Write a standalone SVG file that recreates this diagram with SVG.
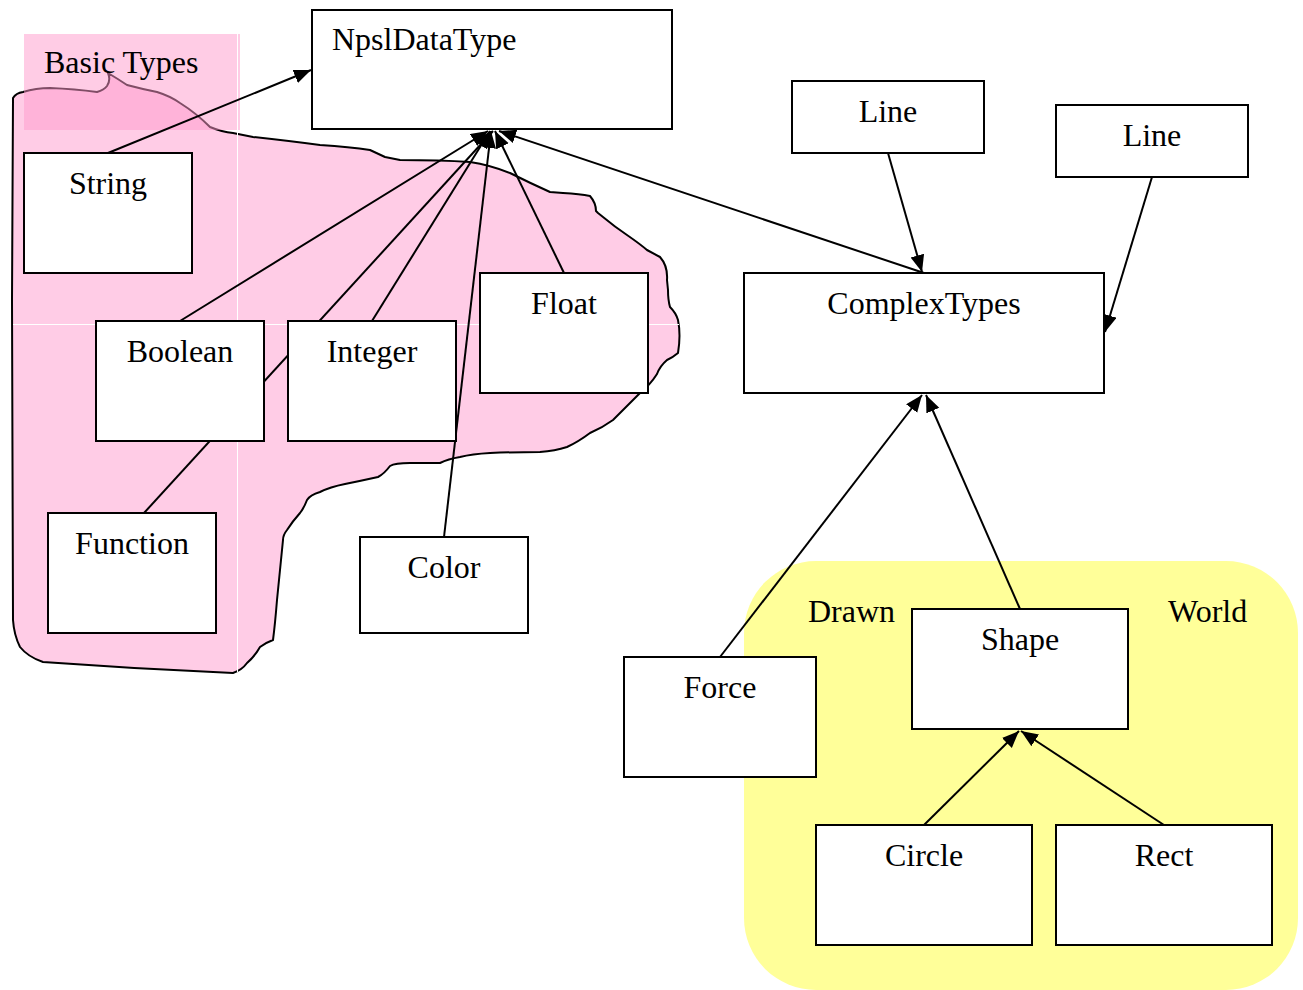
<svg xmlns="http://www.w3.org/2000/svg" width="1303" height="990" viewBox="0 0 1303 990">
<style>
.box{fill:#ffffff;stroke:#000;stroke-width:2}
.lbl{font-family:"Liberation Serif","Times New Roman",serif;font-size:32px;fill:#000}
.c{text-anchor:middle}
.conn{stroke:#000;stroke-width:2;fill:none}
.seam{stroke:#ffffff;stroke-width:1}
</style>
<defs>
<marker id="arr" markerUnits="userSpaceOnUse" markerWidth="20" markerHeight="16" refX="17" refY="7" orient="auto">
<path d="M0,0 L17,7 L0,14 Z" fill="#000"/>
</marker>
</defs>
<rect width="1303" height="990" fill="#fff"/>
<g id="basic-types-region">
<path d="M13,98 Q16,93 23,92 Q36,88 50,88 Q75,89 97,92 Q104,90 107,86 Q111,80 108,73 Q118,79 127,85 Q142,89 157,92 Q170,96 180,103 Q196,113 210,127 Q222,132 233,133 L253,137 Q290,141 320,145 Q350,147 370,150 L385,157 L400,160 Q440,160 470,162 Q490,165 510,173 Q530,183 550,192 L563,193 Q580,194 590,196 Q596,203 596,211 L598,213 L603,217 Q615,227 627,235 Q640,244 647,250 L660,257 Q668,266 667,280 L668,290 Q668,300 670,307 Q676,313 678,320 Q681,335 678,353 Q672,358 667,360 Q660,366 657,374 Q650,385 640,393 Q625,408 613,420 Q602,428 590,433 Q578,442 567,447 Q555,451 540,452 Q515,452 490,453 Q472,454 460,457 Q448,459 440,463 Q425,463 410,463 Q395,463 390,466 Q384,474 378,477 Q360,481 345,484 Q330,487 320,492 Q310,495 307,500 Q304,508 300,513 Q292,522 287,530 Q283,535 283,540 Q280,570 277,600 Q275,625 273,640 Q265,643 260,647 Q255,656 247,663 Q242,670 233,673 Q138,669 43,662 Q28,657 20,647 Q14,635 13,620 L12,300 Z" fill="#ffcce6" stroke="#000" stroke-width="2" stroke-linejoin="round"/>
<rect x="24" y="34" width="216" height="96" fill="#ff99cc" fill-opacity="0.5"/>
<line class="seam" x1="237.5" y1="34" x2="237.5" y2="672"/>
<line class="seam" x1="13" y1="324.5" x2="679" y2="324.5"/>
<text class="lbl" x="44" y="73">Basic Types</text>
</g>
<g id="world-region">
<rect x="744" y="561" width="554" height="429" rx="72" ry="72" fill="#ffff99"/>
<text class="lbl" x="808" y="622">Drawn</text>
<text class="lbl" x="1168" y="622">World</text>
</g>
<g id="connectors">
<line class="conn" x1="108" y1="153" x2="311" y2="70" marker-end="url(#arr)"/>
<line class="conn" x1="180" y1="321" x2="488" y2="131" marker-end="url(#arr)"/>
<line class="conn" x1="144" y1="513" x2="493" y2="131" marker-end="url(#arr)"/>
<line class="conn" x1="372" y1="321" x2="490" y2="131" marker-end="url(#arr)"/>
<line class="conn" x1="444" y1="537" x2="491" y2="131" marker-end="url(#arr)"/>
<line class="conn" x1="564" y1="273" x2="495" y2="131" marker-end="url(#arr)"/>
<line class="conn" x1="924" y1="273" x2="499" y2="131" marker-end="url(#arr)"/>
<line class="conn" x1="888" y1="153" x2="922" y2="272" marker-end="url(#arr)"/>
<line class="conn" x1="1152" y1="177" x2="1105" y2="332" marker-end="url(#arr)"/>
<line class="conn" x1="720" y1="657" x2="922" y2="395" marker-end="url(#arr)"/>
<line class="conn" x1="1020" y1="609" x2="926" y2="395" marker-end="url(#arr)"/>
<line class="conn" x1="924" y1="825" x2="1019" y2="731" marker-end="url(#arr)"/>
<line class="conn" x1="1164" y1="825" x2="1021" y2="731" marker-end="url(#arr)"/>
</g>
<g id="NpslDataType"><rect class="box" x="312" y="10" width="360" height="119"/><text class="lbl" x="332" y="50">NpslDataType</text></g>
<g id="String"><rect class="box" x="24" y="153" width="168" height="120"/><text class="lbl c" x="108" y="194">String</text></g>
<g id="Boolean"><rect class="box" x="96" y="321" width="168" height="120"/><text class="lbl c" x="180" y="362">Boolean</text></g>
<g id="Integer"><rect class="box" x="288" y="321" width="168" height="120"/><text class="lbl c" x="372" y="362">Integer</text></g>
<g id="Float"><rect class="box" x="480" y="273" width="168" height="120"/><text class="lbl c" x="564" y="314">Float</text></g>
<g id="Function"><rect class="box" x="48" y="513" width="168" height="120"/><text class="lbl c" x="132" y="554">Function</text></g>
<g id="Color"><rect class="box" x="360" y="537" width="168" height="96"/><text class="lbl c" x="444" y="578">Color</text></g>
<g id="Line1"><rect class="box" x="792" y="81" width="192" height="72"/><text class="lbl c" x="888" y="122">Line</text></g>
<g id="Line2"><rect class="box" x="1056" y="105" width="192" height="72"/><text class="lbl c" x="1152" y="146">Line</text></g>
<g id="ComplexTypes"><rect class="box" x="744" y="273" width="360" height="120"/><text class="lbl c" x="924" y="314">ComplexTypes</text></g>
<g id="Force"><rect class="box" x="624" y="657" width="192" height="120"/><text class="lbl c" x="720" y="698">Force</text></g>
<g id="Shape"><rect class="box" x="912" y="609" width="216" height="120"/><text class="lbl c" x="1020" y="650">Shape</text></g>
<g id="Circle"><rect class="box" x="816" y="825" width="216" height="120"/><text class="lbl c" x="924" y="866">Circle</text></g>
<g id="Rect"><rect class="box" x="1056" y="825" width="216" height="120"/><text class="lbl c" x="1164" y="866">Rect</text></g>
</svg>
